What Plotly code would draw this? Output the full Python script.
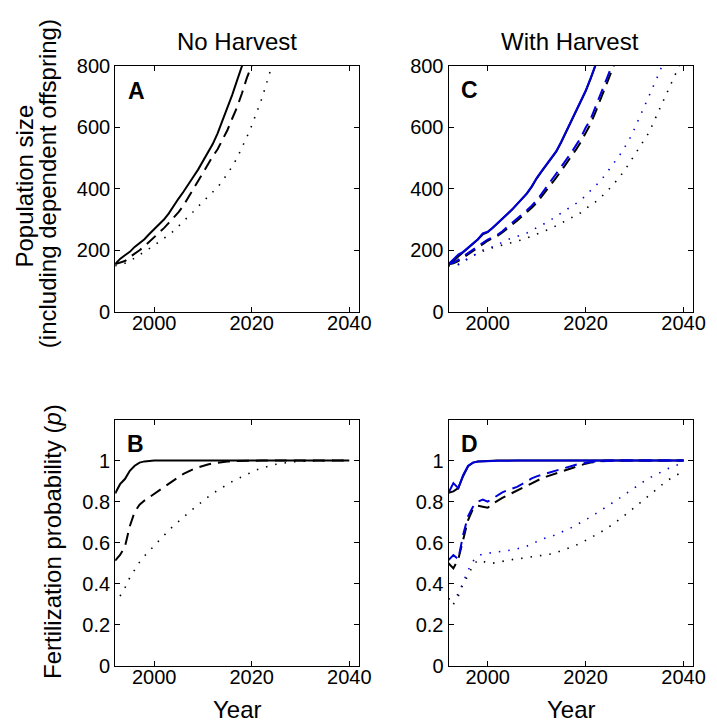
import plotly.graph_objects as go

years = list(range(1992, 2041))

# Panel A: population, no harvest
popA_solid = [155, 172, 184, 195, 211, 222, 236, 253, 268, 285, 300, 320, 345, 368, 390, 412, 438, 462,
              490, 518, 545, 580, 620, 662, 705, 752, 797, 845]
popA_dashed = [155, 160, 165, 178, 188, 200, 213, 227, 241, 256, 272, 289, 305, 324, 345, 372, 400, 424,
               452, 480, 505, 528, 558, 590, 628, 665, 710, 760, 800, 845]
popA_dotted = [150, 152, 158, 165, 175, 185, 195, 205, 216, 228, 238, 250, 263, 278, 293, 308, 325, 342,
               358, 374, 390, 405, 425, 448, 472, 500, 532, 568, 605, 645, 690, 740, 795, 845]

# Panel C: population, with harvest (black and blue scenarios)
popC_solid_k = [155, 165, 180, 193, 207, 221, 235, 252, 259, 272, 286, 301, 317, 332, 349, 365, 384, 406,
                433, 455, 476, 497, 520, 550, 583, 616, 648, 678, 716, 756, 798, 843]
popC_solid_b = [155, 170, 186, 195, 208, 222, 236, 255, 260, 273, 287, 302, 318, 333, 350, 366, 385, 408,
                435, 457, 478, 498, 522, 552, 585, 618, 650, 680, 718, 758, 800, 845]
popC_dashed_k = [155, 158, 165, 176, 188, 199, 211, 221, 231, 239, 247, 258, 270, 283, 296, 310, 323, 338,
                 354, 374, 395, 414, 436, 458, 480, 502, 526, 551, 582, 610, 648, 688, 727, 765, 805, 850]
popC_dashed_b = [155, 160, 169, 180, 192, 203, 215, 225, 235, 242, 250, 262, 275, 288, 302, 317, 330, 345,
                 362, 383, 405, 425, 447, 470, 492, 515, 540, 565, 598, 625, 665, 705, 745, 780, 825]
popC_dotted_k = [152, 150, 153, 162, 172, 182, 192, 200, 204, 208, 212, 216, 220, 225, 230, 234, 240, 246,
                 252, 258, 263, 271, 280, 287, 296, 305, 314, 322, 335, 345, 357, 370, 385, 402, 420, 440,
                 460, 485, 510, 532, 558, 584, 620, 655, 690, 728, 765, 800, 830]
popC_dotted_b = [150, 148, 155, 163, 175, 182, 190, 198, 205, 211, 218, 226, 234, 240, 244, 250, 256, 265,
                 273, 282, 290, 300, 310, 320, 330, 340, 350, 362, 378, 394, 410, 425, 445, 466, 488, 510,
                 535, 562, 595, 630, 668, 700, 735, 775, 815]

# Panel B: fertilization probability, no harvest
pB_solid = [0.84, 0.885, 0.91, 0.95, 0.975, 0.99, 0.996, 0.999,
            1.0, 1.0, 1.0, 1.0, 1.0, 1.0, 1.0, 1.0, 1.0, 1.0, 1.0, 1.0, 1.0, 1.0, 1.0, 1.0, 1.0, 1.0,
            1.0, 1.0, 1.0, 1.0, 1.0, 1.0, 1.0, 1.0, 1.0, 1.0, 1.0, 1.0, 1.0, 1.0, 1.0, 1.0, 1.0, 1.0,
            1.0, 1.0, 1.0, 1.0, 1.0]
pB_dashed = [0.513, 0.54, 0.58, 0.68, 0.75, 0.785, 0.805, 0.822, 0.838, 0.855, 0.872, 0.888, 0.905, 0.92,
             0.935, 0.948, 0.958, 0.967, 0.975, 0.981, 0.986, 0.99, 0.993, 0.995, 0.997, 0.998, 0.999,
             1.0, 1.0, 1.0, 1.0, 1.0, 1.0, 1.0, 1.0, 1.0, 1.0, 1.0, 1.0, 1.0, 1.0, 1.0, 1.0, 1.0, 1.0,
             1.0, 1.0, 1.0, 1.0]
pB_dotted = [None, 0.34, 0.38, 0.43, 0.47, 0.505, 0.535, 0.56, 0.585, 0.615, 0.64, 0.66, 0.683, 0.705,
             0.725, 0.745, 0.765, 0.785, 0.805, 0.822, 0.84, 0.855, 0.87, 0.885, 0.898, 0.91, 0.922, 0.935,
             0.945, 0.955, 0.963, 0.97, 0.976, 0.982, 0.986, 0.99, 0.993, 0.995, 0.997, 0.998, 0.999,
             1.0, 1.0, 1.0, 1.0, 1.0, 1.0, 1.0, 1.0]

# Panel D: fertilization probability, with harvest
pD_solid_k = [0.843, 0.85, 0.866, 0.925, 0.972, 0.99, 0.995, 0.997, 0.998, 0.999,
              1.0, 1.0, 1.0, 1.0, 1.0, 1.0, 1.0, 1.0, 1.0, 1.0, 1.0, 1.0, 1.0, 1.0, 1.0, 1.0, 1.0, 1.0,
              1.0, 1.0, 1.0, 1.0, 1.0, 1.0, 1.0, 1.0, 1.0, 1.0, 1.0, 1.0, 1.0, 1.0, 1.0, 1.0, 1.0, 1.0,
              1.0, 1.0, 1.0]
pD_solid_b = [0.843, 0.89, 0.866, 0.93, 0.975, 0.99, 0.995, 0.997, 0.996, 0.998, 0.999,
              1.0, 1.0, 1.0, 1.0, 1.0, 1.0, 1.0, 1.0, 1.0, 1.0, 1.0, 1.0, 1.0, 1.0, 1.0, 1.0, 1.0,
              1.0, 1.0, 1.0, 1.0, 1.0, 1.0, 1.0, 1.0, 1.0, 1.0, 1.0, 1.0, 1.0, 1.0, 1.0, 1.0, 1.0, 1.0,
              1.0, 1.0, 1.0]
pD_dashed_k = [0.5, 0.475, 0.52, 0.62, 0.71, 0.765, 0.78, 0.775, 0.77, 0.79, 0.805, 0.818, 0.83, 0.843,
               0.855, 0.866, 0.877, 0.89, 0.903, 0.913, 0.922, 0.93, 0.938, 0.946, 0.955, 0.963, 0.97,
               0.978, 0.985, 0.99, 0.994, 0.997,
               1.0, 1.0, 1.0, 1.0, 1.0, 1.0, 1.0, 1.0, 1.0, 1.0, 1.0, 1.0, 1.0, 1.0, 1.0, 1.0, 1.0]
pD_dashed_b = [0.515, 0.54, 0.52, 0.64, 0.73, 0.775, 0.8, 0.81, 0.8, 0.815, 0.83, 0.845, 0.855, 0.862,
               0.872, 0.885, 0.9, 0.913, 0.923, 0.93, 0.938, 0.945, 0.953, 0.96, 0.968, 0.975, 0.98,
               0.985, 0.99, 0.993, 0.995, 0.997, 0.999,
               1.0, 1.0, 1.0, 1.0, 1.0, 1.0, 1.0, 1.0, 1.0, 1.0, 1.0, 1.0, 1.0, 1.0, 1.0, 1.0]
pD_dotted_k = [None, 0.3, 0.34, 0.4, 0.44, 0.49, 0.515, 0.51, 0.5, 0.5, 0.505, 0.51, 0.515, 0.52, 0.522,
               0.524, 0.527, 0.53, 0.533, 0.537, 0.54, 0.545, 0.552, 0.56, 0.568, 0.577, 0.587, 0.598,
               0.61, 0.622, 0.636, 0.65, 0.665, 0.68, 0.697, 0.715, 0.733, 0.752, 0.772, 0.792, 0.812,
               0.832, 0.852, 0.872, 0.89, 0.907, 0.922, 0.935, 0.945]
pD_dotted_b = [0.325, 0.33, 0.35, 0.41, 0.465, 0.51, 0.535, 0.545, 0.548, 0.55, 0.553, 0.556, 0.56, 0.565,
               0.57, 0.576, 0.583, 0.595, 0.605, 0.618, 0.625, 0.63, 0.64, 0.652, 0.662, 0.672, 0.685,
               0.697, 0.71, 0.725, 0.74, 0.755, 0.77, 0.785, 0.8, 0.818, 0.835, 0.852, 0.868, 0.884, 0.9,
               0.915, 0.928, 0.94, 0.952, 0.963, 0.973, 0.982, 0.99]

x_ticks = [2000, 2020, 2040]
pop_ticks = [0, 200, 400, 600, 800]
prob_ticks = [0, 0.2, 0.4, 0.6, 0.8, 1]
prob_ticktext = ["0", "0.2", "0.4", "0.6", "0.8", "1"]

BLACK = "black"
BLUE = "#0000dd"
FONT = "Liberation Sans, Arial, sans-serif"

styles = {
    "solid": dict(dash="solid", width=2),
    "dashed": dict(dash="12px,7px", width=2),
    "dotted": dict(dash="1.5px,8px", width=1.6),
}

fig = go.Figure()


def add(vals, style, color, xa, ya):
    fig.add_trace(go.Scatter(
        x=years[:len(vals)], y=vals, mode="lines",
        line=dict(color=color, **styles[style]),
        xaxis=xa, yaxis=ya, showlegend=False, connectgaps=False,
    ))


# A
add(popA_dotted, "dotted", BLACK, "x", "y")
add(popA_dashed, "dashed", BLACK, "x", "y")
add(popA_solid, "solid", BLACK, "x", "y")
# C
add(popC_dotted_k, "dotted", BLACK, "x2", "y2")
add(popC_dashed_k, "dashed", BLACK, "x2", "y2")
add(popC_solid_k, "solid", BLACK, "x2", "y2")
add(popC_dotted_b, "dotted", BLUE, "x2", "y2")
add(popC_dashed_b, "dashed", BLUE, "x2", "y2")
add(popC_solid_b, "solid", BLUE, "x2", "y2")
# B
add(pB_dotted, "dotted", BLACK, "x3", "y3")
add(pB_dashed, "dashed", BLACK, "x3", "y3")
add(pB_solid, "solid", BLACK, "x3", "y3")
# D
add(pD_dotted_k, "dotted", BLACK, "x4", "y4")
add(pD_dashed_k, "dashed", BLACK, "x4", "y4")
add(pD_solid_k, "solid", BLACK, "x4", "y4")
add(pD_dotted_b, "dotted", BLUE, "x4", "y4")
add(pD_dashed_b, "dashed", BLUE, "x4", "y4")
add(pD_solid_b, "solid", BLUE, "x4", "y4")

W, H = 717, 728


def px_x(a, b):
    return [a / W, b / W]


def px_y(top, bottom):
    return [1 - bottom / H, 1 - top / H]


tick_font = dict(family=FONT, size=20, color="black")
common_x = dict(range=[1992, 2042], tickvals=x_ticks, ticks="inside", ticklen=5, tickcolor="black",
                showline=True, linecolor="black", linewidth=1, mirror="ticks", showgrid=False,
                zeroline=False, tickfont=tick_font, ticklabelstandoff=-7)
common_y = dict(ticks="inside", ticklen=5, tickcolor="black", showline=True, linecolor="black",
                linewidth=1, mirror="ticks", showgrid=False, zeroline=False, tickfont=tick_font)

xl, xr = 109, 357
xl2, xr2 = 448, 697
yt, yb = 48, 302
yt2, yb2 = 413, 667

fig.update_layout(
    width=W, height=H,
    margin=dict(l=0, r=0, t=0, b=0),
    paper_bgcolor="white", plot_bgcolor="white",
    font=dict(family=FONT, color="black"),
    xaxis=dict(domain=px_x(xl, xr), anchor="y", **common_x),
    yaxis=dict(domain=px_y(yt, yb), anchor="x", range=[0, 800], tickvals=pop_ticks, **common_y),
    xaxis2=dict(domain=px_x(xl2, xr2), anchor="y2", **common_x),
    yaxis2=dict(domain=px_y(yt, yb), anchor="x2", range=[0, 800], tickvals=pop_ticks, **common_y),
    xaxis3=dict(domain=px_x(xl, xr), anchor="y3", **common_x),
    yaxis3=dict(domain=px_y(yt2, yb2), anchor="x3", range=[0, 1.2], tickvals=prob_ticks,
                ticktext=prob_ticktext, **common_y),
    xaxis4=dict(domain=px_x(xl2, xr2), anchor="y4", **common_x),
    yaxis4=dict(domain=px_y(yt2, yb2), anchor="x4", range=[0, 1.2], tickvals=prob_ticks,
                ticktext=prob_ticktext, **common_y),
)

label_font = dict(family=FONT, size=24, color="black")
letter_font = dict(family=FONT, size=23, color="black")


def ann(text, x, y, font, angle=0, xanchor="center", yanchor="middle"):
    fig.add_annotation(text=text, x=x / W, y=1 - y / H, xref="paper", yref="paper", showarrow=False,
                       font=font, textangle=angle, xanchor=xanchor, yanchor=yanchor)


ann("No Harvest", 233, 23, label_font)
ann("With Harvest", 572, 23, label_font)
ann("Population size", 17, 172, label_font, angle=-90)
ann("(including dependent offspring)", 41, 170, label_font, angle=-90)
ann("Fertilization probability (<i>p</i>)", 45, 539, label_font, angle=-90)
ann("Year", 233, 712, label_font)
ann("Year", 573, 712, label_font)
ann("<b>A</b>", 131, 74, letter_font)
ann("<b>B</b>", 130, 438, letter_font)
ann("<b>C</b>", 469, 73, letter_font)
ann("<b>D</b>", 469, 438, letter_font)

fig.write_html("out.html")
